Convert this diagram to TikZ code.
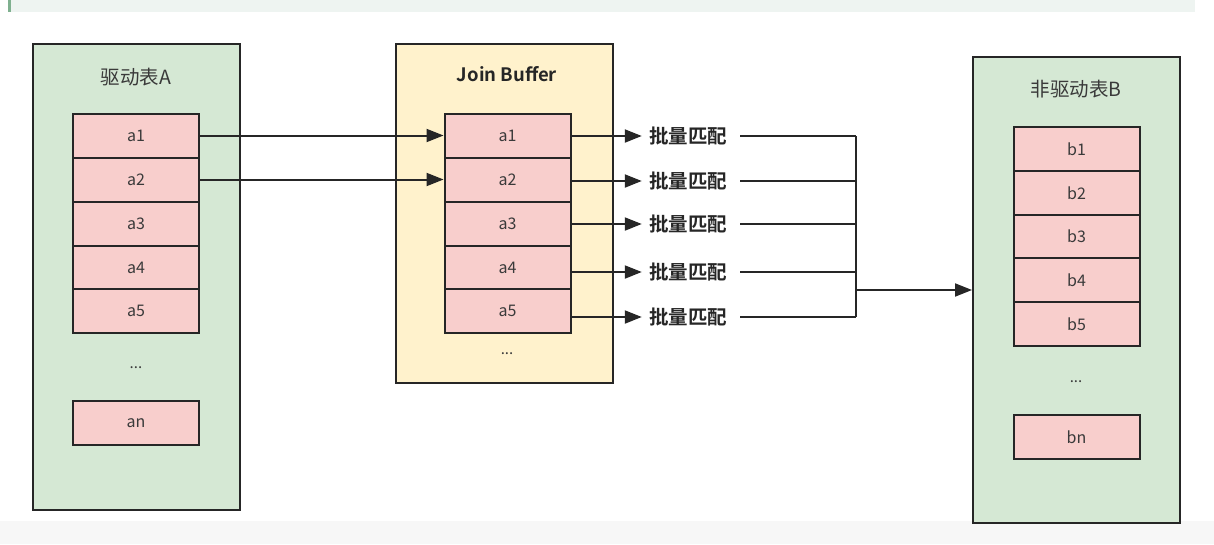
\documentclass[tikz,border=0pt]{standalone}
\usepackage{fontspec}
\setmainfont{Noto Sans CJK SC}[BoldFont={Noto Sans CJK SC Bold}]
\usetikzlibrary{arrows.meta,calc}
\definecolor{gfill}{HTML}{D5E8D4}
\definecolor{yfill}{HTML}{FFF2CC}
\definecolor{pfill}{HTML}{F8CECC}
\definecolor{linec}{HTML}{262626}
\definecolor{textc}{HTML}{3A3A3A}
\definecolor{stripc}{HTML}{EEF4F1}
\definecolor{stripedge}{HTML}{7FB08F}
\definecolor{bottomc}{HTML}{F7F7F7}
\tikzset{
  tablebox/.style={draw=linec, line width=2pt, fill=gfill, inner sep=0pt},
  bufbox/.style={draw=linec, line width=2pt, fill=yfill, inner sep=0pt},
  cellbox/.style={draw=linec, line width=2pt, fill=pfill, minimum width=126pt, minimum height=44pt, inner sep=0pt, text=textc, font=\fontsize{16}{18}\selectfont},
  titletext/.style={text=textc, inner sep=0pt, font=\fontsize{19.5}{21}\selectfont},
  boldtitle/.style={text=linec, inner sep=0pt, font=\fontsize{18.5}{20}\selectfont\bfseries},
  matchlabel/.style={text=linec, inner sep=0pt, font=\fontsize{19.5}{21}\selectfont\bfseries},
  dotstext/.style={text=textc, inner sep=0pt, font=\fontsize{15}{17}\selectfont},
  conn/.style={draw=linec, line width=2pt},
  arr/.style={conn, -{Triangle[length=17pt,width=13pt]}},
}
\begin{document}
\begin{tikzpicture}[x=1pt,y=-1pt]
\useasboundingbox (0,0) rectangle (1214,544);
% screenshot strips
\fill[stripc] (10,0) rectangle (1195,12);
\fill[stripedge] (8,0) rectangle (11,12);
\fill[bottomc] (0,521) rectangle (1214,544);

% left table A
\node[tablebox, minimum width=207pt, minimum height=466pt] (A) at (136.5,277) {};
\node[titletext] (Atitle) at (136,77) {驱动表A};
\node[cellbox] (a1) at (136,135.5) {a1};
\node[cellbox] (a2) at (136,179.5) {a2};
\node[cellbox] (a3) at (136,223.5) {a3};
\node[cellbox] (a4) at (136,267.5) {a4};
\node[cellbox] (a5) at (136,311) {a5};
\node[dotstext] (Adots) at (136,368) {...};
\node[cellbox] (an) at (136,423) {an};

% join buffer
\node[bufbox, minimum width=217pt, minimum height=339pt] (J) at (504.5,213.5) {};
\node[boldtitle] (Jtitle) at (507,74) {Join Buffer};
\node[cellbox] (j1) at (507.5,135.5) {a1};
\node[cellbox] (j2) at (507.5,179.5) {a2};
\node[cellbox] (j3) at (507.5,223.5) {a3};
\node[cellbox] (j4) at (507.5,267.5) {a4};
\node[cellbox] (j5) at (507.5,311) {a5};
\node[dotstext] (Jdots) at (507,354) {...};

% right table B
\node[tablebox, minimum width=207pt, minimum height=466pt] (B) at (1076.5,290) {};
\node[titletext] (Btitle) at (1076,89) {非驱动表B};
\node[cellbox] (b1) at (1076.5,149) {b1};
\node[cellbox] (b2) at (1076.5,193) {b2};
\node[cellbox] (b3) at (1076.5,236.5) {b3};
\node[cellbox] (b4) at (1076.5,280) {b4};
\node[cellbox] (b5) at (1076.5,324) {b5};
\node[dotstext] (Bdots) at (1076,382) {...};
\node[cellbox] (bn) at (1076.5,437) {bn};

% labels
\node[matchlabel] (m1) at (688,136) {批量匹配};
\node[matchlabel] (m2) at (688,181) {批量匹配};
\node[matchlabel] (m3) at (688,224) {批量匹配};
\node[matchlabel] (m4) at (688,272) {批量匹配};
\node[matchlabel] (m5) at (688,317) {批量匹配};
\coordinate (bus) at (856,0);

% A -> Join buffer
\draw[arr] (a1.east) -- (j1.west);
\draw[arr] (a2.east) -- (j2.west);

% Join buffer -> labels
\foreach \k in {1,...,5}{
  \draw[arr] (j\k.east |- m\k.west) -- ([xshift=-7pt]m\k.west);
  \draw[conn] ([xshift=13pt]m\k.east) -- (m\k.east -| bus);
}
\draw[conn] (m1.east -| bus) -- (m5.east -| bus);
\draw[arr] (bus |- B.west) -- (B.west);
\end{tikzpicture}
\end{document}
